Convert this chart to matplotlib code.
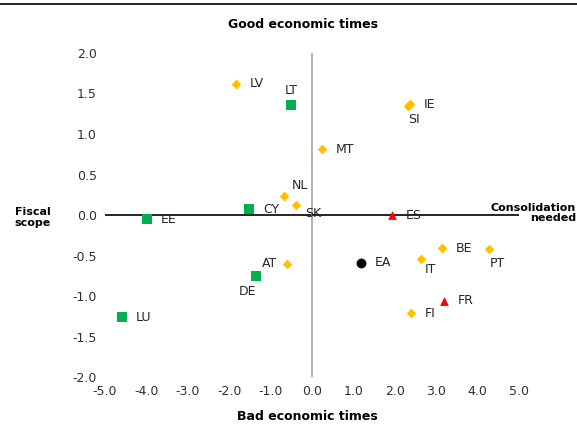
import matplotlib
matplotlib.use("Agg")
import matplotlib.pyplot as plt
from matplotlib.lines import Line2D

# country, x (cyclical position), y (fiscal scope)
countries = ["LV", "LT", "IE", "SI", "MT", "NL", "SK", "CY", "EE", "ES",
             "BE", "PT", "IT", "EA", "AT", "DE", "FR", "FI", "LU"]
xs = [-1.84, -0.51, 2.37, 2.32, 0.24, -0.68, -0.39, -1.52, -3.99, 1.93,
      3.14, 4.28, 2.63, 1.18, -0.60, -1.35, 3.19, 2.39, -4.59]
ys = [1.62, 1.36, 1.37, 1.35, 0.81, 0.23, 0.12, 0.07, -0.05, 0.0,
      -0.41, -0.42, -0.54, -0.59, -0.60, -0.75, -1.06, -1.21, -1.26]
groups = ["d", "s", "d", "d", "d", "d", "d", "s", "s", "t",
          "d", "d", "d", "c", "d", "s", "t", "d", "s"]

style = {"d": dict(marker="D", color="#FFC000", s=24),
         "s": dict(marker="s", color="#00B050", s=45),
         "t": dict(marker="^", color="#FF0000", s=40),
         "c": dict(marker="o", color="black", s=50)}

# label offsets in points (dx, dy, ha, va)
offsets = {"LT": (0, 6, "center", "bottom"), "SI": (4, -5, "center", "top"),
           "NL": (6, 3, "left", "bottom"), "SK": (7, -1, "left", "top"),
           "PT": (6, -6, "center", "top"), "IT": (7, -3, "center", "top"),
           "DE": (-6, -7, "center", "top"), "AT": (-7, 0, "right", "center")}

fig = plt.figure(figsize=(5.77, 4.25), dpi=100)
ax = fig.add_axes([0.182, 0.1129, 0.7175, 0.7624])

ax.axhline(0, color="black", lw=1.2, zorder=1)
ax.axvline(0, color="#A6A6A6", lw=1.2, zorder=1)

for g in style:
    px = [x for x, gg in zip(xs, groups) if gg == g]
    py = [y for y, gg in zip(ys, groups) if gg == g]
    ax.scatter(px, py, zorder=3, linewidths=0, **style[g])

for c, x, y in zip(countries, xs, ys):
    dx, dy, ha, va = offsets.get(c, (10, 0, "left", "center"))
    ax.annotate(c, (x, y), xytext=(dx, dy), textcoords="offset points",
                ha=ha, va=va, fontsize=9, color="#262626")

ax.set_xlim(-5, 5)
ax.set_ylim(-2, 2)
ax.set_xticks([-5, -4, -3, -2, -1, 0, 1, 2, 3, 4, 5])
ax.set_yticks([-2, -1.5, -1, -0.5, 0, 0.5, 1, 1.5, 2])
ax.xaxis.set_major_formatter(lambda v, p: f"{v:.1f}")
ax.yaxis.set_major_formatter(lambda v, p: f"{v:.1f}")
ax.tick_params(length=0, labelsize=9, colors="#303030", pad=6)
for sp in ax.spines.values():
    sp.set_visible(False)

fig.text(0.525, 0.943, "Good economic times", ha="center", va="center",
         fontsize=9, fontweight="bold")
fig.text(0.532, 0.019, "Bad economic times", ha="center", va="center",
         fontsize=9, fontweight="bold")
fig.text(0.057, 0.489, "Fiscal\nscope", ha="center", va="center",
         fontsize=8, fontweight="bold", linespacing=1.1)
fig.text(0.998, 0.499, "Consolidation\nneeded", ha="right", va="center",
         fontsize=8, fontweight="bold", linespacing=1.1, multialignment="right")

fig.add_artist(Line2D([0, 1], [0.9906, 0.9906], color="black", lw=1.2,
                      transform=fig.transFigure))

fig.savefig("out.png", dpi=100)
